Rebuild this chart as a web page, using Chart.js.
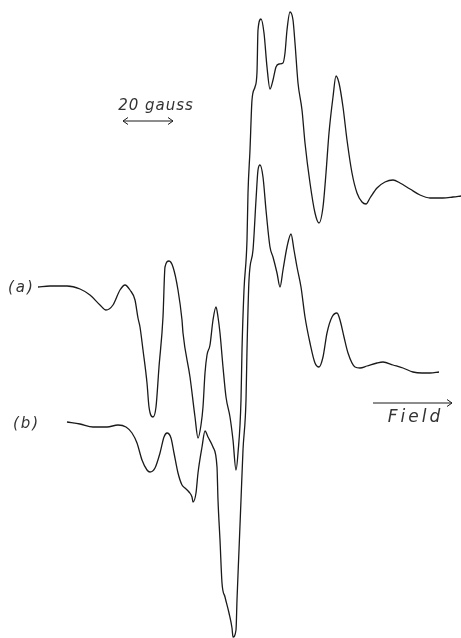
<!DOCTYPE html>
<html>
<head>
<meta charset="utf-8">
<script src="https://cdn.jsdelivr.net/npm/chart.js@4"></script>
<style>
    html, body { margin: 0; padding: 0; background: #fff; }
    canvas { display: block; }
</style>
</head>
<body>
<canvas id="canvas" width="461" height="638"></canvas>
<script>
// field in gauss (relative), signal in arbitrary units
const fieldA = [0.0, 4.8, 11.6, 16.8, 20.8, 24.8, 27.2, 30.0, 32.8, 34.8, 36.8, 38.8, 40.0, 40.8, 42.0, 43.6, 44.4, 46.0, 47.2, 48.4,
    50.0, 50.8, 52.4, 54.0, 56.0, 57.6, 58.0, 60.8, 62.8, 64.0, 65.2, 66.0, 66.8, 67.6, 68.8, 70.0, 71.2, 72.0, 72.8, 74.0,
    75.2, 76.8, 78.0, 79.2, 80.0, 81.2, 81.6, 82.4, 83.6, 84.0, 84.8, 85.6, 86.8, 87.6, 88.0, 89.2, 90.4, 91.6, 92.8, 94.0,
    95.2, 96.4, 98.0, 98.8, 99.6, 100.8, 102.0, 102.8, 104.0, 105.6, 106.8, 108.8, 110.8, 112.4, 114.0, 115.2, 116.4, 118.0, 119.2, 120.4,
    122.0, 123.6, 125.6, 127.6, 129.6, 131.2, 132.8, 135.6, 138.8, 142.0, 144.8, 148.8, 152.8, 156.8, 162.0, 166.0, 169.2];
const signalA = [175.5, 176, 176, 174.5, 171.5, 166.5, 164, 166.5, 174, 176.5, 174, 169, 160, 155.5, 144, 127.5, 115.5, 110.5, 115.5, 135.5,
    160.5, 185.5, 188.5, 185.5, 174, 159, 152.5, 130.5, 110.5, 100, 106.5, 115.5, 132.5, 141.5, 146.5, 159, 165.5, 160.5, 152.5, 135.5,
    120.5, 110.5, 99, 84, 92.5, 119, 144, 174, 199, 222.5, 244, 269, 275.5, 283, 304, 309.5, 302.5, 285.5, 274.5, 279,
    285.5, 287, 287.5, 292.5, 304, 313, 309, 297.5, 277.5, 264, 247.5, 227.5, 212.5, 207.5, 215.5, 232.5, 252.5, 270.5, 281, 277.5,
    265.5, 249, 232.5, 222.5, 218, 217, 220, 225, 228, 229, 227.5, 224.5, 221.5, 220, 220, 220.5, 221];

const fieldB = [11.6, 16.8, 22.0, 27.6, 32.0, 35.2, 37.6, 39.6, 41.6, 43.6, 44.8, 46.8, 48.8, 50.4, 51.6, 53.2, 54.4, 56.0, 57.6, 58.8,
    60.4, 61.6, 62.0, 63.2, 64.0, 65.6, 66.8, 68.0, 70.0, 71.6, 72.0, 72.8, 73.6, 74.8, 76.4, 77.6, 78.0, 79.2, 79.6, 80.4,
    81.2, 82.0, 83.2, 83.6, 84.4, 86.0, 87.2, 88.0, 88.8, 90.0, 91.2, 92.8, 94.0, 95.6, 96.8, 98.0, 99.6, 101.2, 102.4, 103.6,
    105.2, 106.8, 108.8, 110.8, 112.4, 114.0, 115.6, 117.6, 119.6, 120.8, 122.4, 124.0, 126.8, 128.8, 131.6, 135.6, 138.0, 142.0, 146.0, 150.0,
    153.6, 156.8, 160.4];
const signalB = [108, 107, 105.5, 105.5, 106.5, 105.5, 102.5, 97.5, 89, 84, 83, 85, 92.5, 100.5, 102.5, 100, 92.5, 82.5, 76.5, 75,
    73, 70.5, 68, 72.5, 82.5, 95.5, 103.5, 100.5, 95.5, 85.5, 69, 49, 27.5, 20.5, 12.5, 5, 0.5, 4, 19, 44,
    69, 94, 119, 144, 179, 194, 219, 234, 236.5, 230.5, 214, 195.5, 190.5, 182.5, 175.5, 184, 195.5, 202, 194, 185.5,
    175.5, 160.5, 147.5, 137.5, 135.5, 140.5, 152.5, 160.5, 162.5, 159, 150.5, 142.5, 135.5, 135, 136, 137.5, 138, 136.5, 135, 133,
    132.5, 132.5, 133];

const curveLabels = ['(a)', '(b)'];
const labelPos = [[-12.0, 175], [-10.0, 107]];
const scaleBar = [34, 54, 258.5];      // from, to (gauss), level
const scaleText = '20 gauss';
const fieldArrow = [134, 165.6, 117.5];
const fieldText = 'Field';

const ink = '#1a1a1a';
const textFace = '"DejaVu Sans", "Liberation Sans", sans-serif';

const ctx = document.getElementById('canvas').getContext('2d');

function toPoints(xs, ys) {
    return xs.map((x, i) => ({ x: x, y: ys[i] }));
}

function arrowHead(c, x, y, dir) {
    c.beginPath();
    c.moveTo(x - dir * 5, y - 3.5);
    c.lineTo(x, y);
    c.lineTo(x - dir * 5, y + 3.5);
    c.stroke();
}

const data = {
    datasets: [
        {
            label: curveLabels[0],
            data: toPoints(fieldA, signalA),
            borderColor: ink,
            borderWidth: 1.3,
            pointRadius: 0,
            cubicInterpolationMode: 'monotone',
            fill: false
        },
        {
            label: curveLabels[1],
            data: toPoints(fieldB, signalB),
            borderColor: ink,
            borderWidth: 1.3,
            pointRadius: 0,
            cubicInterpolationMode: 'monotone',
            fill: false
        }
    ]
};

const config = {
    type: 'line',
    data: data,
    options: {
        responsive: false,
        animation: false,
        layout: { padding: 0 },
        plugins: {
            legend: { display: false },
            tooltip: { enabled: false }
        },
        scales: {
            x: { type: 'linear', min: -15.2, max: 169.2, display: false },
            y: { type: 'linear', min: 0, max: 319, display: false }
        }
    },
    plugins: [
        {
            id: 'notes',
            afterDraw: (chart) => {
                const c = chart.ctx;
                const xScale = chart.scales.x;
                const yScale = chart.scales.y;

                c.save();
                c.strokeStyle = ink;
                c.fillStyle = '#333';
                c.lineWidth = 1;

                // curve labels
                c.font = 'italic 200 15px ' + textFace;
                c.letterSpacing = '2px';
                c.textAlign = 'left';
                c.textBaseline = 'middle';
                curveLabels.forEach((t, i) => {
                    c.fillText(t, xScale.getPixelForValue(labelPos[i][0]), yScale.getPixelForValue(labelPos[i][1]));
                });

                // 20 gauss bar
                const x1 = xScale.getPixelForValue(scaleBar[0]);
                const x2 = xScale.getPixelForValue(scaleBar[1]);
                const yb = yScale.getPixelForValue(scaleBar[2]);
                c.beginPath();
                c.moveTo(x1, yb);
                c.lineTo(x2, yb);
                c.stroke();
                arrowHead(c, x1, yb, -1);
                arrowHead(c, x2, yb, 1);
                c.letterSpacing = '1px';
                c.textAlign = 'center';
                c.textBaseline = 'alphabetic';
                c.fillText(scaleText, (x1 + x2) / 2 + 8, yb - 11);

                // field arrow
                const f1 = xScale.getPixelForValue(fieldArrow[0]);
                const f2 = xScale.getPixelForValue(fieldArrow[1]);
                const yf = yScale.getPixelForValue(fieldArrow[2]);
                c.beginPath();
                c.moveTo(f1, yf);
                c.lineTo(f2, yf);
                c.stroke();
                arrowHead(c, f2, yf, 1);
                c.font = 'italic 200 17px ' + textFace;
                c.letterSpacing = '3px';
                c.fillText(fieldText, (f1 + f2) / 2 + 3, yf + 19);

                c.restore();
            }
        }
    ]
};

const chart = new Chart(ctx, config);
</script>
</body>
</html>
